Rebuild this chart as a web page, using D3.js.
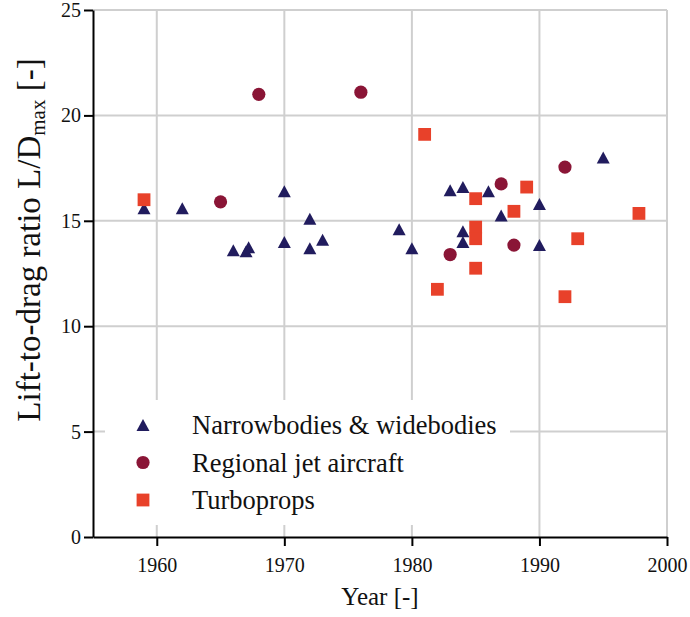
<!DOCTYPE html>
<html>
<head>
<meta charset="utf-8">
<script src="https://cdn.jsdelivr.net/npm/d3@7"></script>
<style>
  html, body { margin: 0; padding: 0; background: #fff; }
  svg { display: block; }
  svg text { font-family: "Liberation Serif", "Times New Roman", serif; }
</style>
</head>
<body>
<svg id="chart" width="690" height="617"></svg>
<script>
// ---- Data ----
const narrowYears = [1959, 1962, 1966, 1967, 1967.2, 1970, 1970, 1972, 1972, 1973, 1979, 1980, 1983, 1984, 1984, 1984, 1986, 1987, 1990, 1990, 1995];
const narrowLD    = [15.6, 15.6, 13.6, 13.55, 13.75, 16.4, 14.0, 15.1, 13.7, 14.1, 14.6, 13.7, 16.45, 16.6, 14.5, 14.0, 16.4, 15.25, 15.8, 13.85, 18.0];

const regionalYears = [1965, 1968, 1976, 1983, 1987, 1988, 1992];
const regionalLD    = [15.9, 21.0, 21.1, 13.4, 16.75, 13.85, 17.55];

const turboYears = [1959, 1981, 1982, 1985, 1985, 1985, 1985, 1988, 1989, 1992, 1993, 1997.8];
const turboLD    = [16.0, 19.1, 11.75, 16.05, 14.7, 14.15, 12.75, 15.45, 16.6, 11.4, 14.15, 15.35];

const xTicks = [1960, 1970, 1980, 1990, 2000];
const yTicks = [0, 5, 10, 15, 20, 25];
const seriesNames = ["Narrowbodies & widebodies", "Regional jet aircraft", "Turboprops"];
const seriesColors = ["#211c5e", "#8a1536", "#e8412a"];
const seriesShapes = ["triangle", "circle", "square"];

// ---- Layout ----
const W = 690, H = 617;
const margin = { left: 93, right: 23, top: 10, bottom: 80 };
const svg = d3.select("#chart");
const serif = '"Liberation Serif", "Times New Roman", serif';

const x = d3.scaleLinear().domain([1955, 2000]).range([margin.left, W - margin.right]);
const y = d3.scaleLinear().domain([0, 25]).range([H - margin.bottom, margin.top]);

// marker shapes
function shapePath(kind) {
  if (kind === "triangle") {
    const w = 6.5, h = 6;
    return `M0,${-h}L${w},${h}L${-w},${h}Z`;
  }
  if (kind === "circle") return d3.symbol(d3.symbolCircle, Math.PI * 6.6 * 6.6)();
  return d3.symbol(d3.symbolSquare, 12.8 * 12.8)();
}

// ---- Gridlines ----
const grid = svg.append("g").attr("stroke", "#cfcfcf").attr("stroke-width", 2);
grid.selectAll("line.v").data(xTicks).join("line")
  .attr("x1", d => x(d)).attr("x2", d => x(d))
  .attr("y1", y(0)).attr("y2", y(25));
grid.selectAll("line.h").data(yTicks.filter(d => d > 0)).join("line")
  .attr("x1", x(1955)).attr("x2", x(2000))
  .attr("y1", d => y(d)).attr("y2", d => y(d));

// ---- Axes ----
const xAxis = svg.append("g")
  .attr("transform", `translate(0,${y(0)})`)
  .call(d3.axisBottom(x).tickValues(xTicks).tickFormat(d3.format("d")).tickSize(9).tickSizeOuter(0));
const yAxis = svg.append("g")
  .attr("transform", `translate(${x(1955)},0)`)
  .call(d3.axisLeft(y).tickValues(yTicks).tickSize(9).tickSizeOuter(0));

[xAxis, yAxis].forEach(a => {
  a.attr("font-family", null).attr("font-size", null);
  a.select(".domain").attr("stroke", "#000").attr("stroke-width", 2);
  a.selectAll(".tick line").attr("stroke", "#000").attr("stroke-width", 2);
  a.selectAll(".tick text")
    .style("font-family", serif)
    .style("font-size", "20px").attr("fill", "#111");
});
xAxis.selectAll(".tick text").attr("dy", "0.71em").attr("y", 21);
yAxis.selectAll(".tick text").attr("x", -12);

// ---- Points ----
const series = [
  { years: narrowYears, vals: narrowLD },
  { years: regionalYears, vals: regionalLD },
  { years: turboYears, vals: turboLD }
];
series.forEach((s, i) => {
  const pts = s.years.map((yr, k) => ({ yr, v: s.vals[k] }));
  svg.append("g").selectAll("path").data(pts).join("path")
    .attr("d", shapePath(seriesShapes[i]))
    .attr("transform", d => `translate(${x(d.yr)},${y(d.v)})`)
    .attr("fill", seriesColors[i]);
});

// ---- Legend ----
const leg = svg.append("g");
leg.append("rect")
  .attr("x", 105).attr("y", 400).attr("width", 405).attr("height", 125)
  .attr("fill", "#fff");
seriesNames.forEach((name, i) => {
  const cy = 425 + i * 37.5;
  leg.append("path")
    .attr("d", shapePath(seriesShapes[i]))
    .attr("transform", `translate(143,${cy})`)
    .attr("fill", seriesColors[i]);
  leg.append("text")
    .attr("x", 192).attr("y", cy).attr("dy", "0.35em")
    .style("font-size", "26.5px").attr("fill", "#111")
    .text(name);
});

// ---- Axis titles ----
svg.append("text")
  .attr("x", (x(1955) + x(2000)) / 2).attr("y", 605)
  .attr("text-anchor", "middle").style("font-size", "25px").attr("fill", "#111")
  .text("Year [-]");

const yl = svg.append("text")
  .attr("transform", `translate(40,240) rotate(-90)`)
  .attr("text-anchor", "middle").style("font-size", "33px").attr("fill", "#111");
yl.append("tspan").text("Lift-to-drag ratio L/D");
yl.append("tspan").style("font-size", "21px").attr("dy", "0.25em").text("max");
yl.append("tspan").attr("dy", "-0.16em").text(" [-]");
</script>
</body>
</html>
